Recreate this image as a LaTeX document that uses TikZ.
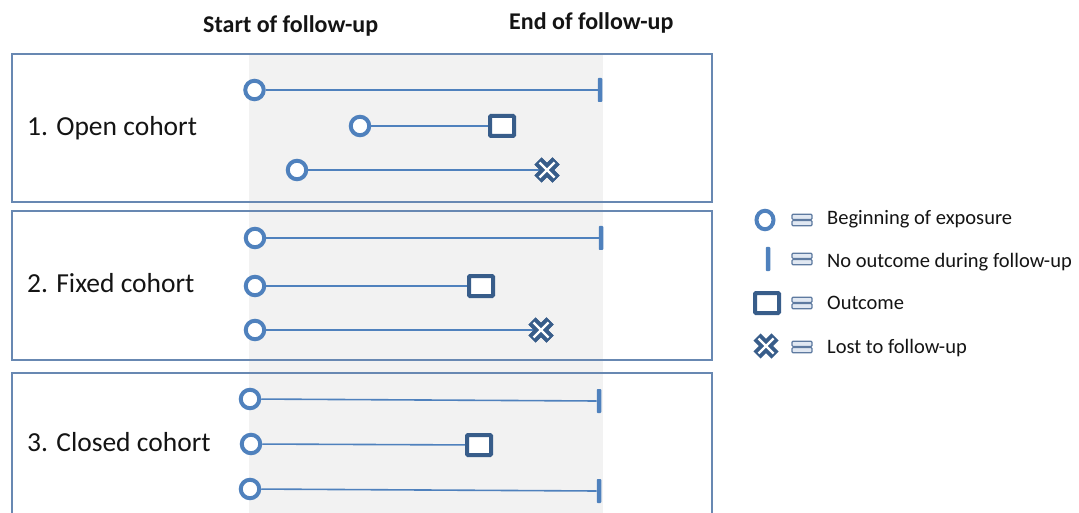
\documentclass[tikz,border=0pt]{standalone}
\usepackage{fontspec}
\usetikzlibrary{shapes.geometric}
\setmainfont{Carlito}
\definecolor{lblue}{RGB}{79,129,189}
\definecolor{dblue}{RGB}{56,93,138}
\definecolor{boxc}{RGB}{104,136,178}
\definecolor{band}{RGB}{242,242,242}
\definecolor{txt}{RGB}{20,20,20}
\definecolor{eqfill}{RGB}{225,232,242}
\tikzset{
  startc/.style={circle, draw=lblue, line width=4pt, fill=white, minimum size=18.5pt, inner sep=0pt},
  tickm/.style={rectangle, fill=lblue, rounded corners=0.8pt, minimum width=4.5pt, minimum height=24pt, inner sep=0pt},
  outm/.style={rectangle, draw=dblue, line width=4pt, fill=white, rounded corners=1pt, minimum width=24pt, minimum height=20pt, inner sep=0pt},
  lostm/.style={rectangle, minimum size=28pt, inner sep=0pt, path picture={
      \draw[dblue, line width=10pt] ([shift={(-9,-9)}]path picture bounding box.center) -- ([shift={(9,9)}]path picture bounding box.center);
      \draw[dblue, line width=10pt] ([shift={(-9,9)}]path picture bounding box.center) -- ([shift={(9,-9)}]path picture bounding box.center);
      \draw[white, line width=2.4pt] ([shift={(-7.5,-7.5)}]path picture bounding box.center) -- ([shift={(7.5,7.5)}]path picture bounding box.center);
      \draw[white, line width=2.4pt] ([shift={(-7.5,7.5)}]path picture bounding box.center) -- ([shift={(7.5,-7.5)}]path picture bounding box.center);
  }},
  tline/.style={lblue, line width=1.6pt},
  cbox/.style={draw=boxc, line width=2pt},
  eqbox/.style={rectangle, draw=boxc!90!black, fill=eqfill, line width=1.2pt, rounded corners=1pt, minimum width=20pt, minimum height=5.2pt, inner sep=0pt},
  label/.style={anchor=base west, text=txt, font=\fontsize{27.5}{32}\selectfont, inner sep=0pt},
  head/.style={anchor=base west, text=txt, font=\fontsize{24}{28}\selectfont\bfseries, inner sep=0pt},
  legt/.style={anchor=base west, text=txt, font=\fontsize{20.5}{24}\selectfont, inner sep=0pt},
}
\begin{document}
\begin{tikzpicture}[x=1pt, y=-1pt]
\useasboundingbox (0,0) rectangle (1079,513);
\clip (0,0) rectangle (1079,513);
\fill[white] (0,0) rectangle (1079,513);
% shaded follow-up band
\fill[band] (249,55) rectangle (603,520);
% boxes
\draw[cbox] (12,54) rectangle (712,202);
\draw[cbox] (12,211) rectangle (712,360);
\draw[cbox] (12,373) rectangle (712,530);
% headers
\node[head] (hs) at (203,33) {Start of follow-up};
\node[head] (he) at (509,30) {End of follow-up};
% labels
\node[label] (l1) at (27,136) {1. Open cohort};
\node[label] (l2) at (27,292) {2. Fixed cohort};
\node[label] (l3) at (27,451) {3. Closed cohort};
% box 1
\node[startc] (a1) at (254.5,90) {};
\node[tickm] (a1e) at (600,90) {};
\node[startc] (a2) at (360,126) {};
\node[outm] (a2e) at (502,126) {};
\node[startc] (a3) at (297,170) {};
\node[lostm] (a3e) at (547,170) {};
\draw[tline] (a1) -- (a1e.west);
\draw[tline] (a2) -- (a2e);
\draw[tline] (a3) -- (a3e.center);
\node[lostm] at (a3e) {};
% box 2
\node[startc] (b1) at (255,238) {};
\node[tickm] (b1e) at (601,238) {};
\node[startc] (b2) at (255,286) {};
\node[outm] (b2e) at (481,286) {};
\node[startc] (b3) at (255,330) {};
\node[lostm] (b3e) at (541,330) {};
\draw[tline] (b1) -- (b1e.west);
\draw[tline] (b2) -- (b2e);
\draw[tline] (b3) -- (b3e.center);
\node[lostm] at (b3e) {};
% box 3
\node[startc] (c1) at (250,399) {};
\node[tickm] (c1e) at (599,401) {};
\node[startc] (c2) at (251,444) {};
\node[outm] (c2e) at (479,445) {};
\node[startc] (c3) at (250,489) {};
\node[tickm] (c3e) at (599,491) {};
\draw[tline] (c1) -- (c1e.west);
\draw[tline] (c2) -- (c2e);
\draw[tline] (c3) -- (c3e.west);
% legend
\node[startc, ellipse, minimum width=17pt, minimum height=18.5pt] (g1) at (765,220) {};
\node[tickm, minimum height=24pt] (g2) at (768,259) {};
\node[outm] (g3) at (767,303) {};
\node[lostm] (g4) at (766,346) {};
\foreach \y/\n in {220/e1, 259/e2, 303/e3, 347/e4}{
  \node[eqbox] (\n a) at (802,\y-3.2) {};
  \node[eqbox] (\n b) at (802,\y+3.2) {};
}
\node[legt] (t1) at (827,225) {Beginning of exposure};
\node[legt] (t2) at (827,267) {No outcome during follow-up};
\node[legt] (t3) at (827,309) {Outcome};
\node[legt] (t4) at (827,353) {Lost to follow-up};
\end{tikzpicture}
\end{document}
